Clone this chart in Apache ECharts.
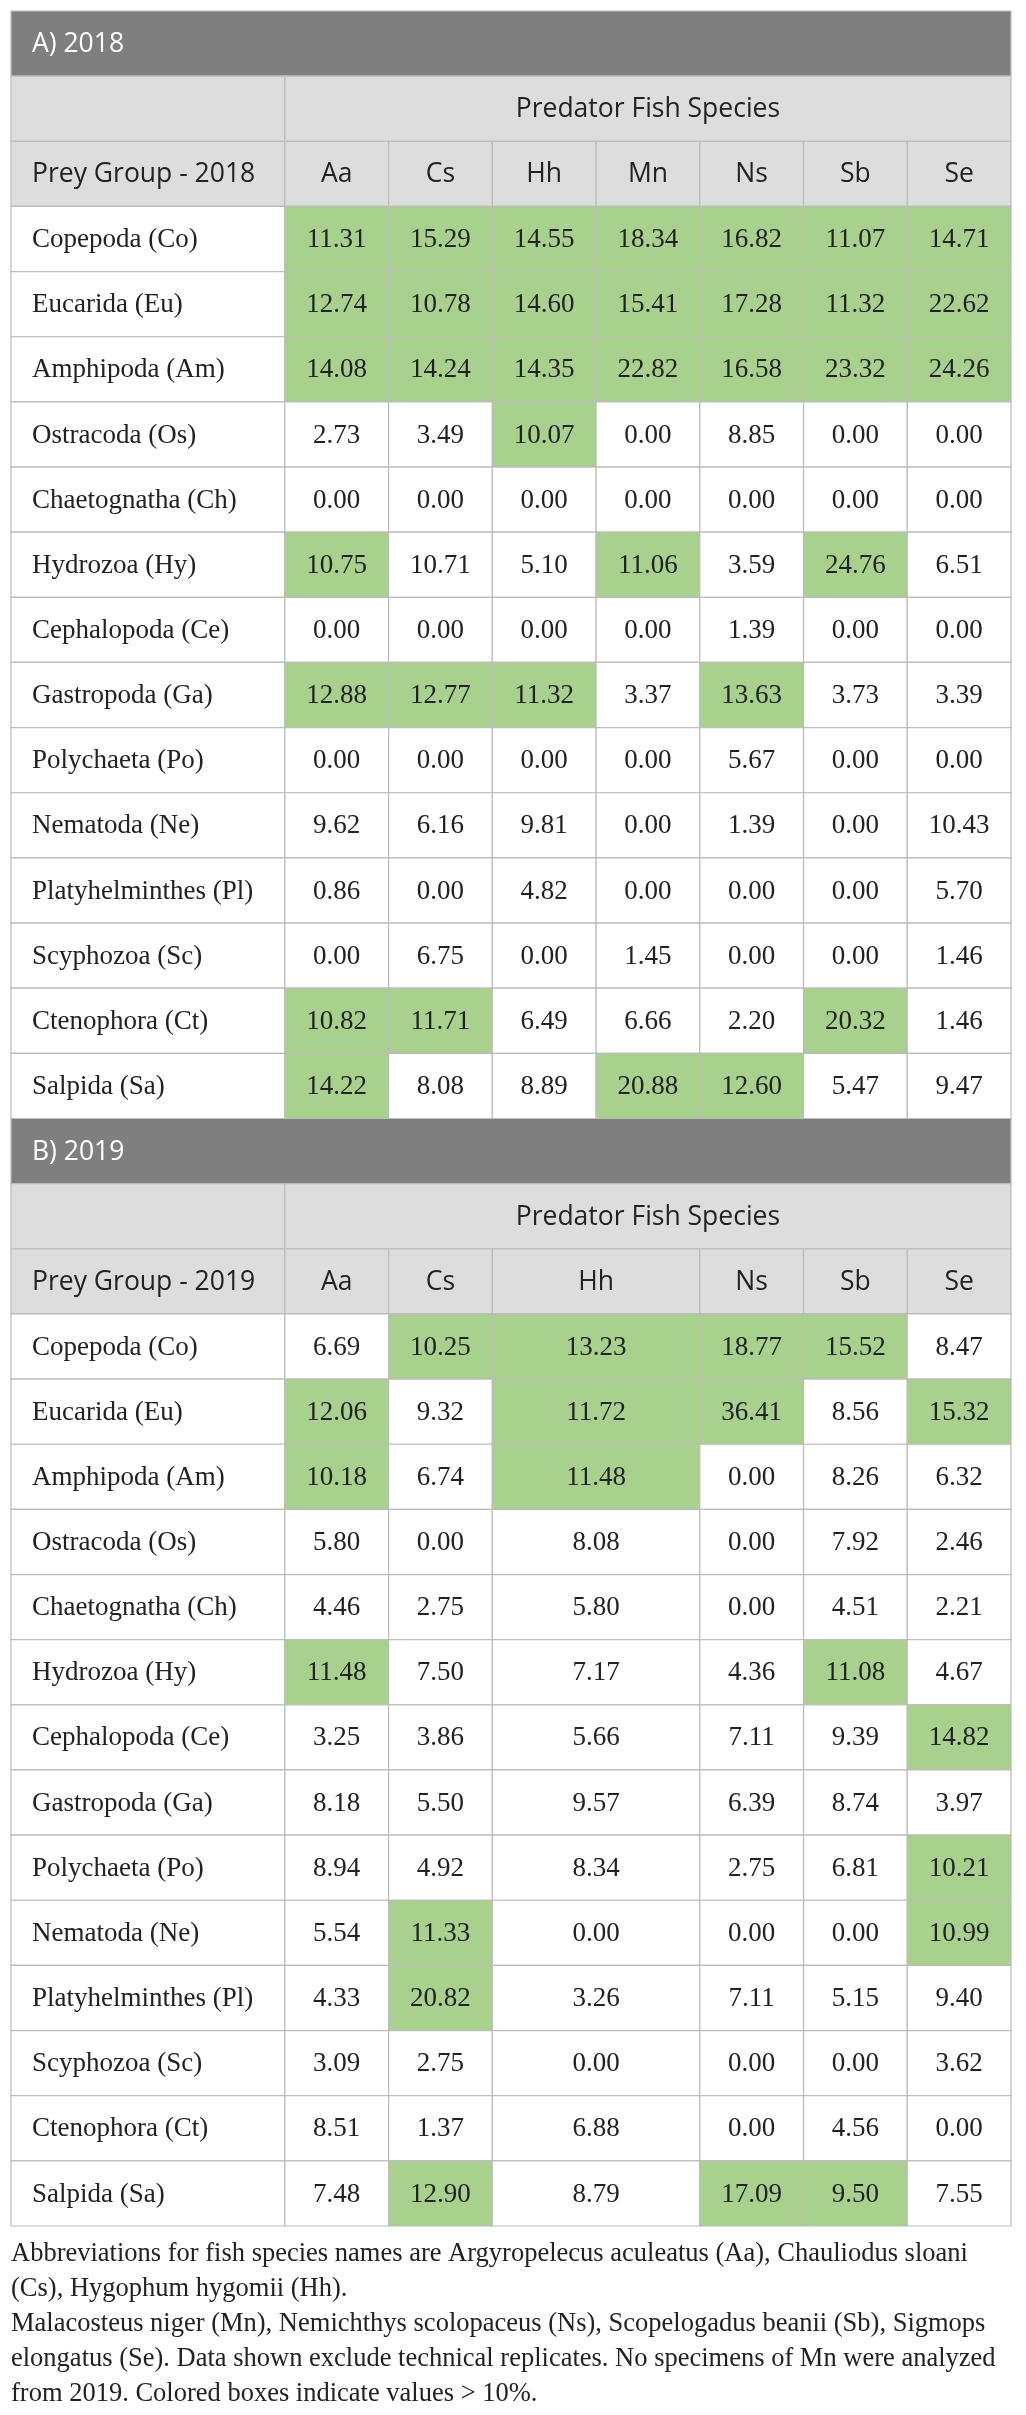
<!DOCTYPE html>
<html>
<head>
<meta charset="utf-8">
<script src="https://cdn.jsdelivr.net/npm/echarts@6/dist/echarts.min.js"></script>
<style>
  html, body { margin: 0; padding: 0; background: #fff; }
  #main { width: 1026px; height: 2415px; }
</style>
</head>
<body>
<div id="main"></div>
<script>
// prey groups (rows), same for both years
var preyGroups = ['Copepoda (Co)', 'Eucarida (Eu)', 'Amphipoda (Am)', 'Ostracoda (Os)',
  'Chaetognatha (Ch)', 'Hydrozoa (Hy)', 'Cephalopoda (Ce)', 'Gastropoda (Ga)',
  'Polychaeta (Po)', 'Nematoda (Ne)', 'Platyhelminthes (Pl)', 'Scyphozoa (Sc)',
  'Ctenophora (Ct)', 'Salpida (Sa)'];

var predators2018 = ['Aa', 'Cs', 'Hh', 'Mn', 'Ns', 'Sb', 'Se'];
var predators2019 = ['Aa', 'Cs', 'Hh', 'Ns', 'Sb', 'Se'];
// no Mn in 2019, the Hh column takes its place
var span2019 = [1, 1, 2, 1, 1, 1];

var values2018 = [
  [11.31, 15.29, 14.55, 18.34, 16.82, 11.07, 14.71],
  [12.74, 10.78, 14.60, 15.41, 17.28, 11.32, 22.62],
  [14.08, 14.24, 14.35, 22.82, 16.58, 23.32, 24.26],
  [2.73, 3.49, 10.07, 0.00, 8.85, 0.00, 0.00],
  [0.00, 0.00, 0.00, 0.00, 0.00, 0.00, 0.00],
  [10.75, 10.71, 5.10, 11.06, 3.59, 24.76, 6.51],
  [0.00, 0.00, 0.00, 0.00, 1.39, 0.00, 0.00],
  [12.88, 12.77, 11.32, 3.37, 13.63, 3.73, 3.39],
  [0.00, 0.00, 0.00, 0.00, 5.67, 0.00, 0.00],
  [9.62, 6.16, 9.81, 0.00, 1.39, 0.00, 10.43],
  [0.86, 0.00, 4.82, 0.00, 0.00, 0.00, 5.70],
  [0.00, 6.75, 0.00, 1.45, 0.00, 0.00, 1.46],
  [10.82, 11.71, 6.49, 6.66, 2.20, 20.32, 1.46],
  [14.22, 8.08, 8.89, 20.88, 12.60, 5.47, 9.47]
];
var values2019 = [
  [6.69, 10.25, 13.23, 18.77, 15.52, 8.47],
  [12.06, 9.32, 11.72, 36.41, 8.56, 15.32],
  [10.18, 6.74, 11.48, 0.00, 8.26, 6.32],
  [5.80, 0.00, 8.08, 0.00, 7.92, 2.46],
  [4.46, 2.75, 5.80, 0.00, 4.51, 2.21],
  [11.48, 7.50, 7.17, 4.36, 11.08, 4.67],
  [3.25, 3.86, 5.66, 7.11, 9.39, 14.82],
  [8.18, 5.50, 9.57, 6.39, 8.74, 3.97],
  [8.94, 4.92, 8.34, 2.75, 6.81, 10.21],
  [5.54, 11.33, 0.00, 0.00, 0.00, 10.99],
  [4.33, 20.82, 3.26, 7.11, 5.15, 9.40],
  [3.09, 2.75, 0.00, 0.00, 0.00, 3.62],
  [8.51, 1.37, 6.88, 0.00, 4.56, 0.00],
  [7.48, 12.90, 8.79, 17.09, 9.50, 7.55]
];

// colored boxes as marked in the source table (1 = colored)
var marked2018 = [
  [1, 1, 1, 1, 1, 1, 1],
  [1, 1, 1, 1, 1, 1, 1],
  [1, 1, 1, 1, 1, 1, 1],
  [0, 0, 1, 0, 0, 0, 0],
  [0, 0, 0, 0, 0, 0, 0],
  [1, 0, 0, 1, 0, 1, 0],
  [0, 0, 0, 0, 0, 0, 0],
  [1, 1, 1, 0, 1, 0, 0],
  [0, 0, 0, 0, 0, 0, 0],
  [0, 0, 0, 0, 0, 0, 0],
  [0, 0, 0, 0, 0, 0, 0],
  [0, 0, 0, 0, 0, 0, 0],
  [1, 1, 0, 0, 0, 1, 0],
  [1, 0, 0, 1, 1, 0, 0]
];
var marked2019 = [
  [0, 1, 1, 1, 1, 0],
  [1, 0, 1, 1, 0, 1],
  [1, 0, 1, 0, 0, 0],
  [0, 0, 0, 0, 0, 0],
  [0, 0, 0, 0, 0, 0],
  [1, 0, 0, 0, 1, 0],
  [0, 0, 0, 0, 0, 1],
  [0, 0, 0, 0, 0, 0],
  [0, 0, 0, 0, 0, 1],
  [0, 1, 0, 0, 0, 1],
  [0, 1, 0, 0, 0, 0],
  [0, 0, 0, 0, 0, 0],
  [0, 0, 0, 0, 0, 0],
  [0, 1, 0, 1, 1, 0]
];

var footnote = [
  'Abbreviations for fish species names are Argyropelecus aculeatus (Aa), Chauliodus sloani',
  '(Cs), Hygophum hygomii (Hh).',
  'Malacosteus niger (Mn), Nemichthys scolopaceus (Ns), Scopelogadus beanii (Sb), Sigmops',
  'elongatus (Se). Data shown exclude technical replicates. No specimens of Mn were analyzed',
  'from 2019. Colored boxes indicate values > 10%.'
];

var LABEL_W = 2.64; // width of the prey column in data-column units
var SANS = '"Open Sans", "Noto Sans", sans-serif';
var SERIF = '"Liberation Serif", "Times New Roman", serif';

// build table cells: x0, x1 in column units, row index from top
var cells = [];
function addSection(title, year, predators, spans, values, marked, startRow) {
  var r = startRow;
  cells.push({ x0: -LABEL_W, x1: 7, row: r, kind: 'title', text: title });
  r++;
  cells.push({ x0: -LABEL_W, x1: 0, row: r, kind: 'head', text: '' });
  cells.push({ x0: 0, x1: 7, row: r, kind: 'headc', text: 'Predator Fish Species' });
  r++;
  cells.push({ x0: -LABEL_W, x1: 0, row: r, kind: 'head', text: 'Prey Group - ' + year });
  var x = 0;
  predators.forEach(function (p, j) {
    cells.push({ x0: x, x1: x + spans[j], row: r, kind: 'headc', text: p });
    x += spans[j];
  });
  r++;
  preyGroups.forEach(function (g, i) {
    cells.push({ x0: -LABEL_W, x1: 0, row: r, kind: 'prey', text: g });
    var cx = 0;
    values[i].forEach(function (v, j) {
      cells.push({ x0: cx, x1: cx + spans[j], row: r, kind: marked[i][j] ? 'hit' : 'val', text: v.toFixed(2) });
      cx += spans[j];
    });
    r++;
  });
  return r;
}
var next = addSection('A) 2018', 2018, predators2018, [1, 1, 1, 1, 1, 1, 1], values2018, marked2018, 0);
var totalRows = addSection('B) 2019', 2019, predators2019, span2019, values2019, marked2019, next);

var fills = { title: '#7f7f7f', head: '#dddddd', headc: '#dddddd', prey: '#ffffff', val: '#ffffff', hit: '#a9d18e' };

function renderCell(params, api) {
  var c = cells[params.dataIndex];
  var p0 = api.coord([api.value(0), api.value(2)]);
  var p1 = api.coord([api.value(1), api.value(2) + 1]);
  var w = p1[0] - p0[0], h = p1[1] - p0[1];
  var isSans = c.kind === 'title' || c.kind === 'head' || c.kind === 'headc';
  var left = c.kind === 'title' || c.kind === 'head' || c.kind === 'prey';
  return {
    type: 'group',
    children: [{
      type: 'rect',
      shape: { x: p0[0], y: p0[1], width: w, height: h },
      style: { fill: fills[c.kind], stroke: '#bcbcbc', lineWidth: 1.2 }
    }, {
      type: 'text',
      style: {
        text: c.text,
        x: left ? p0[0] + 21 : p0[0] + w / 2,
        y: p0[1] + h / 2 + 1,
        align: left ? 'left' : 'center',
        verticalAlign: 'middle',
        fill: c.kind === 'title' ? '#ffffff' : '#222222',
        fontFamily: isSans ? SANS : SERIF,
        fontSize: isSans ? 26.5 : 27
      }
    }]
  };
}

var chart = echarts.init(document.getElementById('main'));
chart.setOption({
  animation: false,
  backgroundColor: '#ffffff',
  grid: { left: 11, top: 11, width: 1000, height: 2215 },
  xAxis: { type: 'value', min: -LABEL_W, max: 7, show: false },
  yAxis: { type: 'value', min: 0, max: totalRows, inverse: true, show: false },
  series: [{
    type: 'custom',
    renderItem: renderCell,
    encode: { x: [0, 1], y: 2 },
    data: cells.map(function (c) { return [c.x0, c.x1, c.row]; })
  }],
  graphic: footnote.map(function (line, i) {
    return {
      type: 'text',
      x: 11,
      y: 2254 + i * 35,
      style: { text: line, fill: '#222222', fontFamily: SERIF, fontSize: 26.5, verticalAlign: 'middle' }
    };
  })
});
</script>
</body>
</html>
